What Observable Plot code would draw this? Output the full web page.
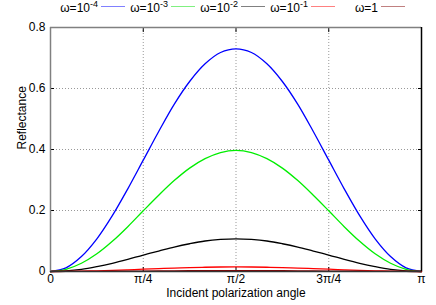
<!DOCTYPE html>
<html>
<head>
<meta charset="utf-8">
<script src="https://cdn.jsdelivr.net/npm/d3@7"></script>
<script src="https://cdn.jsdelivr.net/npm/@observablehq/plot@0.6"></script>
<style>
  body { margin: 0; background: #fff; font-family: "Liberation Sans", Arial, sans-serif; }
  #wrap { position: relative; width: 436px; height: 305px; }
  #legend { position: relative; width: 436px; height: 18px; font-size: 12px; color: #000; }
  .lab { position: absolute; top: 1px; text-align: right; width: 60px; white-space: nowrap; }
  .lab sup { font-size: 9px; vertical-align: 5px; line-height: 0; }
  .sw { position: absolute; top: 6px; width: 24px; height: 0; border-top-width: 1.5px; border-top-style: solid; }
</style>
</head>
<body>
<div id="wrap">
  <div id="legend"></div>
  <div id="chart"></div>
</div>
<script>
// Incident polarization angle, degrees
const angleDeg = [0, 7.5, 15, 22.5, 30, 37.5, 45, 52.5, 60, 67.5, 75, 82.5, 90,
  97.5, 105, 112.5, 120, 127.5, 135, 142.5, 150, 157.5, 165, 172.5, 180];

const seriesNames = ["ω=10^-4", "ω=10^-3", "ω=10^-2", "ω=10^-1", "ω=1"];
const seriesColors = ["#0000ff", "#00ee00", "#000000", "#ff0000", "#8b0000"];
const legendColors = ["#8080ff", "#80f080", "#808080", "#ff8080", "#c08080"];

const r_w1e4 = [0, 0.012, 0.049, 0.107, 0.183, 0.271, 0.365, 0.459, 0.548, 0.623, 0.681, 0.718, 0.730,
  0.718, 0.681, 0.623, 0.548, 0.459, 0.365, 0.271, 0.183, 0.107, 0.049, 0.012, 0];
const r_w1e3 = [0, 0.007, 0.027, 0.058, 0.099, 0.147, 0.199, 0.250, 0.298, 0.339, 0.370, 0.390, 0.397,
  0.390, 0.370, 0.339, 0.298, 0.250, 0.199, 0.147, 0.099, 0.058, 0.027, 0.007, 0];
const r_w1e2 = [0, 0.002, 0.007, 0.016, 0.027, 0.040, 0.054, 0.067, 0.080, 0.091, 0.100, 0.105, 0.107,
  0.105, 0.100, 0.091, 0.080, 0.067, 0.054, 0.040, 0.027, 0.016, 0.007, 0.002, 0];
const r_w1e1 = [0, 0.0003, 0.001, 0.0022, 0.0038, 0.0056, 0.0075, 0.0094, 0.0113, 0.0128, 0.014, 0.0147, 0.015,
  0.0147, 0.014, 0.0128, 0.0113, 0.0094, 0.0075, 0.0056, 0.0038, 0.0022, 0.001, 0.0003, 0];
const r_w1 = [0, 0.0001, 0.0002, 0.0004, 0.0008, 0.0011, 0.0015, 0.0019, 0.0023, 0.0026, 0.0028, 0.0029, 0.003,
  0.0029, 0.0028, 0.0026, 0.0023, 0.0019, 0.0015, 0.0011, 0.0008, 0.0004, 0.0002, 0.0001, 0];

const seriesValues = [r_w1e4, r_w1e3, r_w1e2, r_w1e1, r_w1];

const xTickValues = [0, Math.PI / 4, Math.PI / 2, 3 * Math.PI / 4, Math.PI];
const xTickLabels = ["0", "π/4", "π/2", "3π/4", "π"];
const yTickValues = [0, 0.2, 0.4, 0.6, 0.8];
const yTickLabels = ["0", "0.2", "0.4", "0.6", "0.8"];

const rows = [];
seriesValues.forEach((vals, si) => {
  vals.forEach((v, i) => rows.push({series: seriesNames[si], x: angleDeg[i] * Math.PI / 180, y: v}));
});

// Legend (gnuplot style: label then sample)
const legend = document.getElementById("legend");
seriesNames.forEach((name, k) => {
  const lab = document.createElement("div");
  lab.className = "lab";
  lab.style.left = (98 + 70 * k - 60) + "px";
  const m = name.match(/^(.*)\^(.*)$/);
  lab.innerHTML = m ? `${m[1]}<sup>${m[2]}</sup>` : name;
  legend.appendChild(lab);
  const sw = document.createElement("div");
  sw.className = "sw";
  sw.style.left = (101 + 70 * k) + "px";
  sw.style.borderTopColor = legendColors[k];
  legend.appendChild(sw);
});

const chart = Plot.plot({
  width: 436,
  height: 287,
  marginTop: 9,
  marginBottom: 34,
  marginLeft: 50,
  marginRight: 15,
  style: {fontFamily: "Liberation Sans, Arial, sans-serif", fontSize: "12px", color: "#000", background: "#fff"},
  x: {domain: [0, Math.PI]},
  y: {domain: [0, 0.8]},
  color: {domain: seriesNames, range: seriesColors},
  marks: [
    Plot.gridX({ticks: xTickValues.slice(1, 4), stroke: "#999", strokeOpacity: 1, strokeDasharray: "1,2"}),
    Plot.gridY({ticks: yTickValues.slice(1, 4), stroke: "#999", strokeOpacity: 1, strokeDasharray: "1,2"}),
    Plot.axisX({ticks: xTickValues, tickSize: 0, tickPadding: 3, tickFormat: (d, i) => xTickLabels[i], fontSize: 12, label: null}),
    Plot.axisX({ticks: xTickValues, anchor: "bottom", tickSize: -4, tickFormat: () => "", label: null}),
    Plot.axisX({ticks: xTickValues, anchor: "top", tickSize: -4, tickFormat: () => "", label: null}),
    Plot.axisY({ticks: yTickValues, tickSize: 0, tickPadding: 5, tickFormat: (d, i) => yTickLabels[i], fontSize: 12, label: null}),
    Plot.axisY({ticks: yTickValues, anchor: "left", tickSize: -4, tickFormat: () => "", label: null}),
    Plot.axisY({ticks: yTickValues, anchor: "right", tickSize: -4, tickFormat: () => "", label: null}),
    Plot.line(rows, {x: "x", y: "y", z: "series", stroke: "series", strokeWidth: 1.3, curve: "catmull-rom"}),
    Plot.ruleX([0], {stroke: "#808080", strokeWidth: 1.5}),
    Plot.ruleY([0.8], {stroke: "#808080", strokeWidth: 1.5}),
    Plot.ruleX([Math.PI], {stroke: "#000", strokeWidth: 1.5}),
    Plot.ruleY([0], {stroke: "#333", strokeWidth: 1.5}),
    Plot.text(["Incident polarization angle"], {frameAnchor: "bottom", dy: 25, fontSize: 12}),
    Plot.text(["Reflectance"], {frameAnchor: "left", dx: -28, rotate: -90, fontSize: 12})
  ]
});
document.getElementById("chart").appendChild(chart);
</script>
</body>
</html>
